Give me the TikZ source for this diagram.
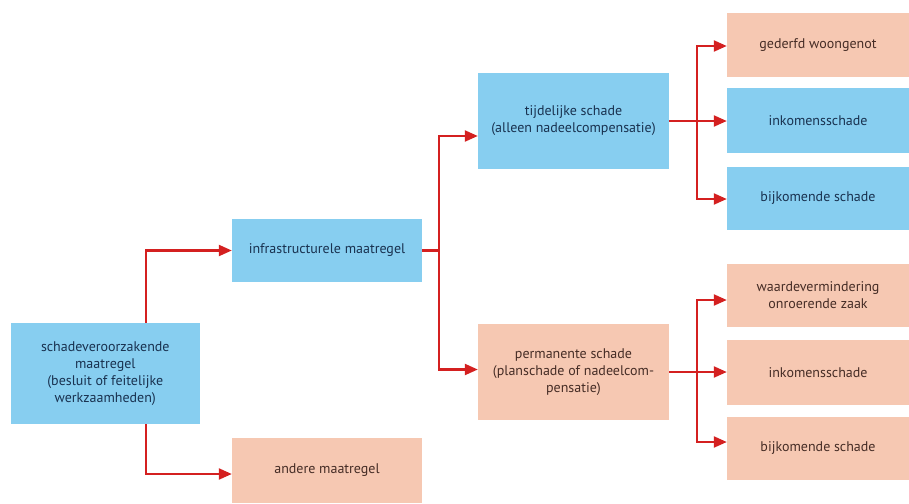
\documentclass[tikz,border=0pt]{standalone}
\usepackage{fontspec}
\setmainfont{PT Sans}
\usetikzlibrary{arrows.meta,calc}
\definecolor{boxblue}{RGB}{135,206,240}
\definecolor{boxpink}{RGB}{246,200,178}
\definecolor{arrowred}{RGB}{212,32,32}
\definecolor{txtblue}{RGB}{25,50,80}
\definecolor{txtbrown}{RGB}{70,45,38}
\begin{document}
\begin{tikzpicture}[x=1pt,y=-1pt,
  box/.style={rectangle, inner sep=2pt, align=center, font=\fontsize{14}{17}\selectfont},
  bluebox/.style={box, fill=boxblue, text=txtblue},
  pinkbox/.style={box, fill=boxpink, text=txtbrown},
  conn/.style={draw=arrowred, line width=2.2pt},
  arr/.style={conn, -{Triangle[length=13pt,width=11pt]}},
  colw/.style={minimum width=190pt},
  rightw/.style={minimum width=182pt},
]
\useasboundingbox[fill=white] (0,0) rectangle (909,503);

% left
\node[bluebox, minimum width=189pt, minimum height=101pt] (src) at (105.3,373.3)
  {schadeveroorzakende\\maatregel\\(besluit of feitelijke\\werkzaamheden)};
\node[bluebox, colw, minimum height=63pt] (infra) at (327,250.5) {infrastructurele maatregel};
\node[pinkbox, colw, minimum height=65pt] (andere) at (327,470.5) {andere maatregel};

% middle
\node[bluebox, minimum width=191pt, minimum height=96pt] (tijd) at (573.5,121)
  {tijdelijke schade\\(alleen nadeelcompensatie)};
\node[pinkbox, minimum width=191pt, minimum height=96pt] (perm) at (573.5,372)
  {permanente schade\\(planschade of nadeelcom-\\pensatie)};

% right column
\node[pinkbox, rightw, minimum height=64pt] (ged) at (818,45) {gederfd woongenot};
\node[bluebox, rightw, minimum height=65pt] (ink1) at (818,120.5) {inkomensschade};
\node[bluebox, rightw, minimum height=63pt] (bij1) at (818,198.5) {bijkomende schade};
\node[pinkbox, rightw, minimum height=63pt] (waar) at (818,295.5) {waardevermindering\\onroerende zaak};
\node[pinkbox, rightw, minimum height=65pt] (ink2) at (818,372.5) {inkomensschade};
\node[pinkbox, rightw, minimum height=63pt] (bij2) at (818,448.5) {bijkomende schade};

% connectors from source
\draw[arr] ([xshift=41pt]src.north) |- (infra.west);
\draw[arr] ([xshift=41pt]src.south) |- ([yshift=-3.5pt]andere.west);

% from infrastructurele maatregel
\coordinate (j1) at (439,250.5);
\draw[conn] (infra.east) -- (j1);
\draw[arr] (j1) |- ([yshift=-15pt]tijd.west);
\draw[arr] (j1) |- ([yshift=2.5pt]perm.west);

% from tijdelijke schade
\coordinate (j2) at (697,121);
\draw[arr] (tijd.east) -- (tijd.east -| ink1.west);
\draw[arr] (j2) |- ([yshift=-1pt]ged.west);
\draw[arr] (j2) |- ([yshift=-0.5pt]bij1.west);

% from permanente schade
\coordinate (j3) at (697,372);
\draw[arr] (perm.east) -- (perm.east -| ink2.west);
\draw[arr] (j3) |- ([yshift=-4.5pt]waar.west);
\draw[arr] (j3) |- ([yshift=6.5pt]bij2.west);
\end{tikzpicture}
\end{document}
